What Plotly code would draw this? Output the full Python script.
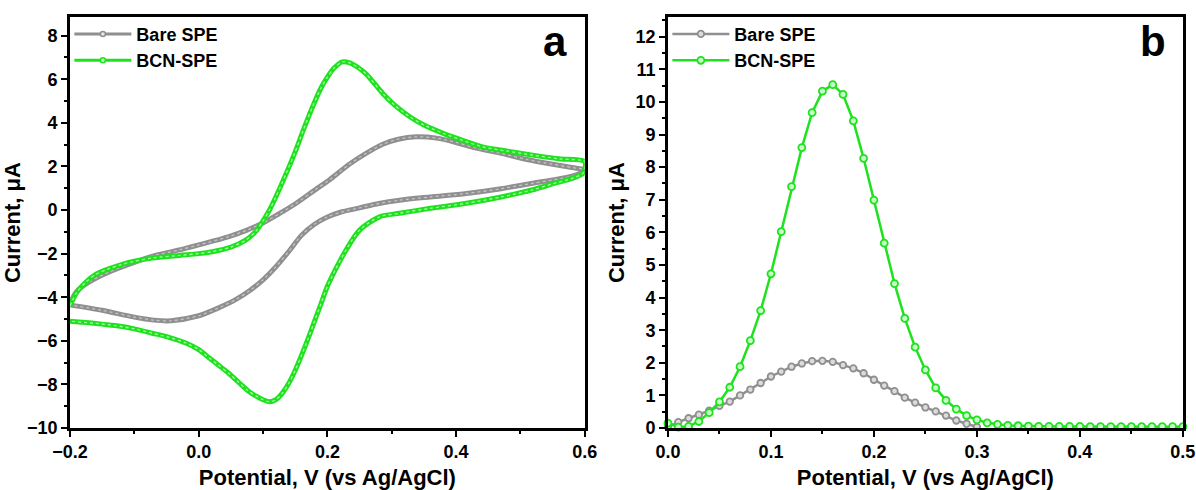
import plotly.graph_objects as go

# panel a: cyclic voltammograms (anodic sweep then cathodic sweep)
bare_cv_x = [-0.2, -0.19, -0.17, -0.14, -0.1, -0.07, -0.03, 0.0, 0.047, 0.075, 0.099, 0.125, 0.151, 0.182,
             0.203, 0.234, 0.26, 0.286, 0.31, 0.338, 0.37, 0.4, 0.43, 0.47, 0.51, 0.55, 0.58, 0.6,
             0.6, 0.58, 0.55, 0.519, 0.47, 0.416, 0.36, 0.312, 0.28, 0.25, 0.22, 0.2, 0.18, 0.16,
             0.14, 0.12, 0.1, 0.08, 0.058, 0.03, 0.0, -0.043, -0.07, -0.102, -0.15, -0.2]
bare_cv_y = [-4.3, -3.75, -3.3, -2.85, -2.4, -2.1, -1.83, -1.6, -1.22, -0.92, -0.61, -0.17, 0.3, 0.95,
             1.38, 2.1, 2.6, 3.02, 3.25, 3.36, 3.3, 3.1, 2.85, 2.6, 2.32, 2.1, 1.95, 1.85,
             1.8, 1.55, 1.38, 1.23, 0.98, 0.76, 0.6, 0.45, 0.3, 0.1, -0.1, -0.32, -0.65, -1.15,
             -1.9, -2.6, -3.2, -3.68, -4.1, -4.5, -4.85, -5.08, -5.05, -4.9, -4.6, -4.35]

bcn_cv_x = [-0.2, -0.19, -0.175, -0.16, -0.14, -0.12, -0.1, -0.072, -0.03, 0.0, 0.021, 0.05, 0.073, 0.088,
            0.099, 0.11, 0.12, 0.136, 0.149, 0.163, 0.177, 0.19, 0.2, 0.21, 0.223, 0.235, 0.247, 0.26,
            0.286, 0.305, 0.328, 0.35, 0.38, 0.41, 0.441, 0.48, 0.519, 0.56, 0.6,
            0.6, 0.597, 0.58, 0.55, 0.519, 0.47, 0.416, 0.36, 0.312, 0.281, 0.25, 0.229, 0.213, 0.2,
            0.19, 0.18, 0.17, 0.16, 0.15, 0.14, 0.13, 0.12, 0.11, 0.1, 0.09, 0.077, 0.062, 0.047, 0.03,
            0.015, 0.0, -0.02, -0.045, -0.072, -0.1, -0.13, -0.16, -0.2]
bcn_cv_y = [-4.4, -3.8, -3.3, -2.95, -2.7, -2.5, -2.35, -2.2, -2.08, -2.0, -1.91, -1.7, -1.38, -1.0,
            -0.54, 0.0, 0.61, 1.68, 2.6, 3.7, 4.74, 5.6, 6.1, 6.5, 6.8, 6.75, 6.55, 6.25,
            5.35, 4.8, 4.28, 3.9, 3.52, 3.2, 2.9, 2.7, 2.52, 2.35, 2.22,
            1.9, 1.68, 1.45, 1.2, 0.93, 0.6, 0.31, 0.08, -0.15, -0.31, -0.92, -1.83, -2.7, -3.5,
            -4.3, -5.1, -5.9, -6.65, -7.35, -7.95, -8.4, -8.7, -8.8, -8.7, -8.55, -8.3, -7.9, -7.5, -7.1,
            -6.75, -6.4, -6.1, -5.85, -5.65, -5.45, -5.3, -5.2, -5.1]

# panel b: differential pulse voltammograms
bare_dpv_x = [0.0, 0.01, 0.02, 0.03, 0.04, 0.05, 0.06, 0.07, 0.08, 0.09, 0.1, 0.11, 0.12, 0.13, 0.14, 0.15,
              0.16, 0.17, 0.18, 0.19, 0.2, 0.21, 0.22, 0.23, 0.24, 0.25, 0.26, 0.27, 0.28, 0.29, 0.3]
bare_dpv_y = [0.03, 0.18, 0.3, 0.41, 0.53, 0.68, 0.81, 1.0, 1.18, 1.38, 1.58, 1.73, 1.88, 1.98, 2.05, 2.06,
              2.03, 1.93, 1.83, 1.68, 1.48, 1.3, 1.13, 0.93, 0.78, 0.63, 0.51, 0.38, 0.23, 0.13, 0.03]

bcn_dpv_x = [0.0, 0.01, 0.02, 0.03, 0.04, 0.05, 0.06, 0.07, 0.08, 0.09, 0.1, 0.11, 0.12, 0.13, 0.14, 0.15,
             0.16, 0.17, 0.18, 0.19, 0.2, 0.21, 0.22, 0.23, 0.24, 0.25, 0.26, 0.27, 0.28, 0.29, 0.3,
             0.31, 0.32, 0.33, 0.34, 0.35, 0.36, 0.37, 0.38, 0.39, 0.4, 0.41, 0.42, 0.43, 0.44, 0.45,
             0.46, 0.47, 0.48, 0.49, 0.5]
bcn_dpv_y = [0.15, 0.03, 0.05, 0.2, 0.47, 0.8, 1.25, 1.88, 2.68, 3.6, 4.73, 6.02, 7.4, 8.6, 9.67, 10.33,
             10.53, 10.23, 9.42, 8.27, 6.99, 5.67, 4.43, 3.36, 2.48, 1.78, 1.23, 0.85, 0.58, 0.38, 0.25,
             0.16, 0.11, 0.08, 0.07, 0.06, 0.05, 0.05, 0.05, 0.05, 0.05, 0.04, 0.04, 0.04, 0.04, 0.04,
             0.04, 0.04, 0.04, 0.04, 0.04]

GRAY = '#8f8f8f'
GREEN = '#1fe21f'
BOLD = dict(family='Liberation Sans, Arial, sans-serif', color='black', weight='bold')

fig = go.Figure()

# CV: thick band with a dotted light core to mimic the dense hollow markers
for x, y, col, core in [(bare_cv_x, bare_cv_y, GRAY, '#c4c4c4'), (bcn_cv_x, bcn_cv_y, GREEN, '#a6ffa6')]:
    fig.add_trace(go.Scatter(x=x, y=y, mode='lines', line=dict(color=col, width=5, shape='spline', smoothing=0.8),
                             showlegend=False, xaxis='x', yaxis='y'))
    fig.add_trace(go.Scatter(x=x, y=y, mode='lines',
                             line=dict(color=core, width=1.3, dash='dot', shape='spline', smoothing=0.8),
                             showlegend=False, xaxis='x', yaxis='y'))

# legend entries for panel a
for name, col in [('Bare SPE', GRAY), ('BCN-SPE', GREEN)]:
    fig.add_trace(go.Scatter(x=[None], y=[None], mode='lines+markers', name=name, legend='legend',
                             line=dict(color=col, width=3),
                             marker=dict(size=5, color='#e8e8e8' if col == GRAY else '#c8ffc8',
                                         line=dict(color=col, width=1.5)),
                             xaxis='x', yaxis='y'))

# DPV
fig.add_trace(go.Scatter(x=bare_dpv_x, y=bare_dpv_y, mode='lines+markers', name='Bare SPE', legend='legend2',
                         line=dict(color=GRAY, width=2.5),
                         marker=dict(size=6.5, color='#dcdcdc', line=dict(color=GRAY, width=1.8)),
                         cliponaxis=False, xaxis='x2', yaxis='y2'))
fig.add_trace(go.Scatter(x=bcn_dpv_x, y=bcn_dpv_y, mode='lines+markers', name='BCN-SPE', legend='legend2',
                         line=dict(color=GREEN, width=2.5),
                         marker=dict(size=7, color='#c8ffc8', line=dict(color=GREEN, width=1.8)),
                         cliponaxis=False, xaxis='x2', yaxis='y2'))

axis_common = dict(showline=True, linecolor='black', linewidth=2.5, mirror=True, showgrid=False, zeroline=False,
                   ticks='outside', ticklen=6, tickwidth=2, tickcolor='black', automargin=False,
                   tickfont=dict(size=18, **BOLD))
title_font = dict(size=22, **BOLD)
minor_style = dict(ticks='outside', ticklen=3.5, tickwidth=2, tickcolor='black')
legend_style = dict(y=0.968, xanchor='left', yanchor='top', bgcolor='rgba(0,0,0,0)',
                    font=dict(size=18, **BOLD), tracegroupgap=0, itemwidth=57)

fig.update_layout(
    width=1196, height=490,
    margin=dict(l=0, r=0, t=0, b=0),
    paper_bgcolor='white', plot_bgcolor='white',
    xaxis=dict(domain=[0.0585, 0.489], range=[-0.2, 0.6], dtick=0.2, tick0=-0.2, tickformat='.1f',
               minor=dict(dtick=0.1, **minor_style),
               title=dict(text='Potential, V (vs Ag/AgCl)', font=title_font, standoff=11),
               anchor='y', **axis_common),
    yaxis=dict(domain=[0.1265, 0.965], range=[-10, 8.85], dtick=2, tick0=0,
               minor=dict(dtick=1, **minor_style),
               title=dict(text='Current, μA', font=title_font, standoff=5),
               anchor='x', **axis_common),
    xaxis2=dict(domain=[0.5585, 0.989], range=[0, 0.5], dtick=0.1, tick0=0, tickformat='.1f',
                minor=dict(dtick=0.05, **minor_style),
                title=dict(text='Potential, V (vs Ag/AgCl)', font=title_font, standoff=11),
                anchor='y2', **axis_common),
    yaxis2=dict(domain=[0.1265, 0.965], range=[0, 12.6], dtick=1, tick0=0,
                minor=dict(dtick=0.5, **minor_style),
                title=dict(text='Current, μA', font=title_font, standoff=5),
                anchor='x2', **axis_common),
    legend=dict(x=0.058, **legend_style),
    legend2=dict(x=0.558, **legend_style),
    annotations=[
        dict(text='a', x=0.464, y=0.915, xref='paper', yref='paper', xanchor='center', yanchor='middle',
             showarrow=False, font=dict(size=42, **BOLD)),
        dict(text='b', x=0.964, y=0.915, xref='paper', yref='paper', xanchor='center', yanchor='middle',
             showarrow=False, font=dict(size=42, **BOLD)),
    ],
)

# drop the default page margin so the figure fills the window
fig.write_html('out.html', config={'displayModeBar': False},
               post_script="document.body.style.margin='0px';")
